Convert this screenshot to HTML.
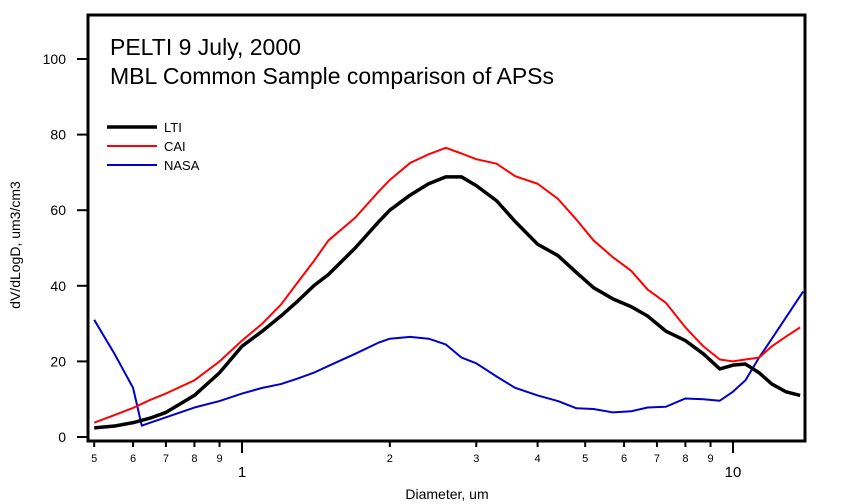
<!DOCTYPE html>
<html><head><meta charset="utf-8"><style>
body{margin:0;background:#fff}
svg{display:block;font-family:"Liberation Sans",Arial,sans-serif}
</style></head><body>
<svg id="c" width="851" height="504"></svg>
<script>
const diamGrid=[0.5,0.55,0.6,0.65,0.7,0.8,0.9,1.0,1.1,1.2,1.3,1.4,1.5,1.7,1.9,2.0,2.2,2.4,2.6,2.8,3.0,3.3,3.6,4.0,4.4,4.8,5.2,5.7,6.2,6.7,7.3,8,8.7,9.4,10,10.6,11.3,12,12.8,13.7];
const ltiValues=[2.4,2.9,3.8,5,6.5,11,17,24,28,32,36,40,43,50,57,60,64,67,68.8,68.8,66.5,62.5,57,51,48,43.5,39.5,36.5,34.5,32,28,25.5,22,18,19,19.3,17,14,12,11];
const caiValues=[3.8,5.8,7.7,9.8,11.5,15,20,25.5,30,35,41,46.5,52,58,65,68,72.5,74.8,76.5,75,73.5,72.3,69,67,63,57.5,52,47.5,44,39,35.5,29,24,20.5,20,20.5,21,24,26.5,29];
const nasaDiam=[0.5,0.55,0.6,0.625,0.65,0.7,0.8,0.9,1.0,1.1,1.2,1.3,1.4,1.5,1.7,1.9,2.0,2.2,2.4,2.6,2.8,3.0,3.3,3.6,4.0,4.4,4.8,5.2,5.7,6.2,6.7,7.3,8,8.7,9.4,10,10.6,11.3,12,12.8,13.9];
const nasaValues=[31,22,13,3,3.8,5.2,7.8,9.5,11.5,13,14,15.5,17,18.8,22,25,26,26.5,26,24.5,21,19.5,16,13,11,9.5,7.6,7.4,6.5,6.8,7.8,8,10.2,10,9.6,12,15,21,26,31.5,38.5];
const yTicks=[0,20,40,60,80,100];
const xMinor=[5,6,7,8,9,2,3,4,5,6,7,8,9];
const xMinorVal=[0.5,0.6,0.7,0.8,0.9,2,3,4,5,6,7,8,9];
const xMajor=[1,10];

const NS="http://www.w3.org/2000/svg";
const svg=document.getElementById('c');
function X(d){return 242+491*Math.log10(d);}
function Y(v){return 437-3.78*v;}
function el(t,a,txt){const e=document.createElementNS(NS,t);for(const k in a)e.setAttribute(k,a[k]);if(txt!=null)e.textContent=txt;svg.appendChild(e);return e;}

let f=el('rect',{x:88,y:15,width:717,height:426,fill:'none',stroke:'#000','stroke-width':3});



yTicks.forEach(v=>{
  let t=el('line',{x1:77,x2:88,y1:Y(v),y2:Y(v),stroke:'#000','stroke-width':2});
  
  
  let l=el('text',{x:66,y:Y(v)+5,'text-anchor':'end','font-size':14},String(v));
  
  
});
xMinorVal.forEach((d,i)=>{
  let t=el('line',{x1:X(d),x2:X(d),y1:441,y2:447,stroke:'#000','stroke-width':2});
  
  
  let l=el('text',{x:X(d),y:462,'text-anchor':'middle','font-size':11},String(xMinor[i]));
  
  
});
xMajor.forEach(d=>{
  let t=el('line',{x1:X(d),x2:X(d),y1:441,y2:453,stroke:'#000','stroke-width':2});
  
  
  let l=el('text',{x:X(d),y:477,'text-anchor':'middle','font-size':15},String(d));
  
  
});

function series(xs,vs,color,w,name){
  const p=el('polyline',{points:xs.map((d,i)=>X(d)+','+Y(vs[i])).join(' '),fill:'none',stroke:color,'stroke-width':w,'stroke-linejoin':'round'});
  
  
}
series(nasaDiam,nasaValues,'#0000cc',2,'nasa-line');
series(diamGrid,caiValues,'#ff0000',2,'cai-line');
series(diamGrid,ltiValues,'#000',3.5,'lti-line');

let t1=el('text',{x:110,y:55,'font-size':23},'PELTI 9 July, 2000');


let t2=el('text',{x:110,y:84,'font-size':23},'MBL Common Sample comparison of APSs');



[['LTI','#000',3.5,127],['CAI','#ff0000',2,146],['NASA','#0000cc',2,165]].forEach(r=>{
  let l=el('line',{x1:107,x2:157,y1:r[3],y2:r[3],stroke:r[1],'stroke-width':r[2]});
  
  
  let t=el('text',{x:164,y:r[3]+5,'font-size':13},r[0]);
  
  
});

let xt=el('text',{x:447,y:499,'text-anchor':'middle','font-size':14},'Diameter, um');


let yt=el('text',{x:0,y:0,'text-anchor':'middle','font-size':14,transform:'translate(20,245) rotate(-90)'},'dV/dLogD, um3/cm3');


</script>
</body></html>
